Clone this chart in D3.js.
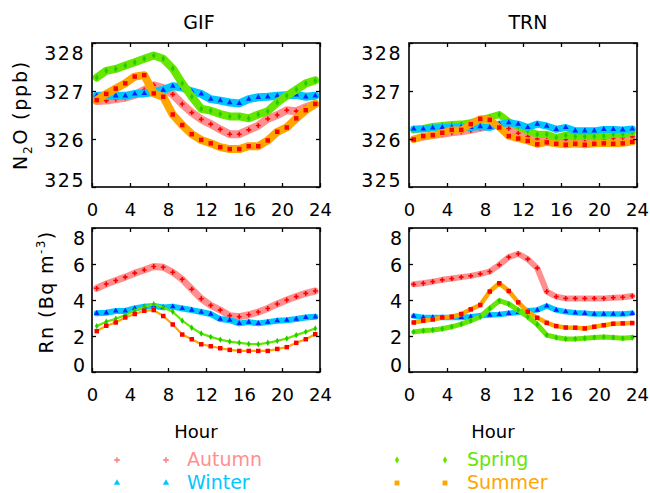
<!DOCTYPE html>
<html>
<head>
<meta charset="utf-8">
<script src="https://cdn.jsdelivr.net/npm/d3@7"></script>
<style>
  body { margin: 0; background: #fff; }
  svg { display: block; font-family: "DejaVu Sans", sans-serif; }
</style>
</head>
<body>
<svg id="chart" width="650" height="493"></svg>
<script>
// ---- data ----
const hours = [0.5,1.5,2.5,3.5,4.5,5.5,6.5,7.5,8.5,9.5,10.5,11.5,12.5,13.5,14.5,15.5,16.5,17.5,18.5,19.5,20.5,21.5,22.5,23.5];
const seasons = ["Autumn", "Winter", "Spring", "Summer"];
const xTicks = [0, 4, 8, 12, 16, 20, 24];
const n2oTicks = [325, 326, 327, 328];
const rnTicks = [0, 2, 4, 6, 8];

// GIF, N2O (ppb)
const gifN2O_autumn = [326.79,326.80,326.83,326.86,326.92,327.02,327.12,327.06,326.93,326.73,326.55,326.41,326.31,326.20,326.10,326.10,326.19,326.28,326.42,326.50,326.60,326.58,326.66,326.73];
const gifN2O_winter = [326.90,326.90,326.90,326.90,326.94,326.95,326.98,327.02,327.10,327.07,326.99,326.94,326.83,326.80,326.76,326.74,326.83,326.87,326.88,326.90,326.91,326.92,326.88,326.90];
const gifN2O_spring = [327.28,327.42,327.46,327.53,327.60,327.67,327.74,327.67,327.47,327.16,326.88,326.63,326.59,326.52,326.47,326.47,326.43,326.51,326.58,326.76,326.90,327.03,327.16,327.22];
const gifN2O_summer = [326.81,326.94,327.05,327.16,327.30,327.33,326.95,326.88,326.51,326.29,326.10,325.98,325.91,325.83,325.79,325.79,325.85,325.85,325.97,326.15,326.24,326.43,326.60,326.73];

// TRN, N2O (ppb)
const trnN2O_autumn = [326.00,326.04,326.07,326.10,326.13,326.15,326.18,326.22,326.26,326.30,326.22,326.12,326.05,326.00,325.98,325.98,325.99,325.99,325.99,326.00,326.00,326.02,326.03,326.05];
const trnN2O_winter = [326.21,326.21,326.23,326.24,326.25,326.25,326.24,326.26,326.24,326.31,326.34,326.31,326.24,326.31,326.27,326.20,326.24,326.17,326.17,326.17,326.20,326.20,326.19,326.21];
const trnN2O_spring = [326.19,326.22,326.26,326.28,326.30,326.31,326.34,326.40,326.45,326.51,326.36,326.26,326.17,326.10,326.10,326.03,326.08,326.05,326.05,326.05,326.06,326.10,326.10,326.14];
const trnN2O_summer = [325.99,326.06,326.08,326.13,326.19,326.19,326.31,326.42,326.40,326.24,326.06,326.01,325.96,325.89,325.93,325.90,325.88,325.90,325.88,325.90,325.91,325.90,325.91,325.94];

// GIF, Rn (Bq m-3)
const gifRn_autumn = [4.65,4.89,5.08,5.27,5.49,5.67,5.86,5.82,5.54,5.15,4.60,4.07,3.70,3.44,3.13,3.07,3.18,3.33,3.53,3.78,4.00,4.19,4.37,4.50];
const gifRn_winter = [3.26,3.29,3.39,3.39,3.53,3.63,3.67,3.59,3.63,3.53,3.44,3.33,3.22,2.94,2.88,2.70,2.77,2.70,2.77,2.85,2.88,2.94,3.03,3.07];
const gifRn_spring = [2.55,2.79,2.96,3.16,3.40,3.63,3.76,3.59,3.35,2.85,2.46,2.14,1.95,1.80,1.69,1.62,1.56,1.54,1.62,1.73,1.86,2.05,2.23,2.42];
const gifRn_summer = [2.27,2.57,2.75,3.03,3.22,3.40,3.44,3.11,2.64,2.08,1.82,1.54,1.43,1.32,1.23,1.17,1.17,1.17,1.17,1.28,1.38,1.62,1.82,2.10];

// TRN, Rn (Bq m-3)
const trnRn_autumn = [4.87,4.93,5.02,5.12,5.19,5.27,5.34,5.45,5.58,5.95,6.38,6.57,6.27,5.77,4.47,4.19,4.09,4.09,4.09,4.09,4.09,4.13,4.15,4.22];
const trnRn_winter = [3.11,3.03,3.03,3.03,3.03,3.03,3.07,3.13,3.16,3.20,3.26,3.31,3.40,3.44,3.67,3.44,3.35,3.29,3.26,3.22,3.22,3.22,3.22,3.26];
const trnRn_spring = [2.23,2.29,2.33,2.40,2.51,2.66,2.85,3.07,3.53,3.96,3.78,3.44,3.07,2.64,2.05,1.92,1.84,1.84,1.88,1.92,1.95,1.92,1.88,1.92];
const trnRn_summer = [2.75,2.85,2.92,3.03,3.07,3.22,3.48,3.72,4.47,4.93,4.50,3.87,3.35,3.01,2.73,2.55,2.47,2.46,2.42,2.51,2.60,2.68,2.70,2.72];

// ---- styles ----
const bandColor = { Autumn: "#ff8f8f", Winter: "#00c8ff", Spring: "#66e600", Summer: "#ffa500" };
const markColor = { Autumn: "#ff0000", Winter: "#0022ff", Spring: "#22cc00", Summer: "#ff0000" };
const markShape = { Autumn: d3.symbolCross, Winter: d3.symbolTriangle, Spring: d3.symbolDiamond, Summer: d3.symbolSquare };
const markSize  = { Autumn: 13, Winter: 14, Spring: 12, Summer: 20 };

const W = 228, H = 144;
// order: which season is drawn first (index into seasons)
const panels = [
  { title: "GIF", x: 92,  y: 43,  dom: [325, 328], ticks: n2oTicks, order: [0, 1, 2, 3],
    data: [gifN2O_autumn, gifN2O_winter, gifN2O_spring, gifN2O_summer], bw: [8, 8, 8, 8] },
  { title: "TRN", x: 409, y: 43,  dom: [325, 328], ticks: n2oTicks, order: [0, 2, 1, 3],
    data: [trnN2O_autumn, trnN2O_winter, trnN2O_spring, trnN2O_summer], bw: [7, 7, 7, 7] },
  { title: null,  x: 92,  y: 228, dom: [0, 8], ticks: rnTicks, order: [0, 1, 2, 3],
    data: [gifRn_autumn, gifRn_winter, gifRn_spring, gifRn_summer], bw: [7, 6, 2.2, 2.2] },
  { title: null,  x: 409, y: 228, dom: [0, 8], ticks: rnTicks, order: [0, 1, 2, 3],
    data: [trnRn_autumn, trnRn_winter, trnRn_spring, trnRn_summer], bw: [6, 5.5, 5, 4.5] }
];

const svg = d3.select("#chart");
const x = d3.scaleLinear().domain([0, 24]).range([0, W]);

panels.forEach((p, pi) => {
  const g = svg.append("g").attr("transform", `translate(${p.x},${p.y})`);
  const y = d3.scaleLinear().domain(p.dom).range([H, 0]);

  // series: band then markers
  p.order.forEach(si => {
    const s = seasons[si];
    const vals = p.data[si];
    const pts = hours.map((h, i) => [h, vals[i]]);
    g.append("path")
      .datum(pts)
      .attr("fill", "none")
      .attr("stroke", bandColor[s])
      .attr("stroke-width", p.bw[si])
      .attr("stroke-linejoin", "round")
      .attr("stroke-linecap", "round")
      .attr("d", d3.line().x(d => x(d[0])).y(d => y(d[1])));
    g.selectAll(null)
      .data(pts)
      .join("path")
      .attr("transform", d => `translate(${x(d[0])},${y(d[1])})`)
      .attr("d", d3.symbol(markShape[s], markSize[s]))
      .attr("fill", markColor[s]);
  });

  // inward ticks on all 4 sides
  const tk = 4;
  const addAx = (ax, tr) => {
    const a = g.append("g").attr("transform", tr).call(ax);
    a.select(".domain").remove();
    a.selectAll("text").remove();
    a.selectAll("line").attr("stroke", "#000").attr("stroke-width", 1.3);
  };
  addAx(d3.axisBottom(x).tickValues(xTicks).tickSize(-tk), `translate(0,${H})`);
  addAx(d3.axisTop(x).tickValues(xTicks).tickSize(-tk), "translate(0,0)");
  addAx(d3.axisLeft(y).tickValues(p.ticks).tickSize(-tk), "translate(0,0)");
  addAx(d3.axisRight(y).tickValues(p.ticks).tickSize(-tk), `translate(${W},0)`);

  g.append("rect")
    .attr("width", W).attr("height", H)
    .attr("fill", "none").attr("stroke", "#000").attr("stroke-width", 1.6);

  // tick labels
  const yl = g.append("g").call(
    d3.axisLeft(y).tickValues(p.ticks).tickFormat(d3.format("d")).tickSize(0).tickPadding(7));
  yl.select(".domain").remove();
  yl.selectAll("text")
    .attr("font-size", 19).attr("font-family", "DejaVu Sans, sans-serif")
    .attr("letter-spacing", p.dom[0] > 100 ? 1.5 : 0)
    .attr("fill", "#000")
    .attr("dy", (d, i, n) => i === 0 ? "-0.05em" : i === n.length - 1 ? "0.85em" : "0.42em");

  const xl = g.append("g").attr("transform", `translate(0,${H})`)
    .call(d3.axisBottom(x).tickValues(xTicks).tickFormat(d3.format("d")).tickSize(0).tickPadding(16));
  xl.select(".domain").remove();
  xl.selectAll("text")
    .attr("font-size", 18).attr("font-family", "DejaVu Sans, sans-serif").attr("fill", "#000");

  if (p.title) {
    svg.append("text")
      .attr("x", pi === 0 ? 199 : 528).attr("y", 29)
      .attr("text-anchor", "middle").attr("font-size", 19)
      .text(p.title);
  }
});

// y-axis titles
const n2oLab = svg.append("text")
  .attr("transform", "translate(27,115) rotate(-90)")
  .attr("text-anchor", "middle").attr("font-size", 19).attr("letter-spacing", 1.8);
n2oLab.append("tspan").text("N");
n2oLab.append("tspan").attr("font-size", 12).attr("dy", 5).text("2");
n2oLab.append("tspan").attr("dy", -5).text("O (ppb)");

const rnLab = svg.append("text")
  .attr("transform", "translate(53,292) rotate(-90)")
  .attr("text-anchor", "middle").attr("font-size", 19).attr("letter-spacing", 1.4);
rnLab.append("tspan").text("Rn (Bq m");
rnLab.append("tspan").attr("font-size", 12).attr("dy", -8).text("-3");
rnLab.append("tspan").attr("dy", 8).text(")");

// x-axis titles
[196, 493].forEach(cx => {
  svg.append("text").attr("x", cx).attr("y", 438)
    .attr("text-anchor", "middle").attr("font-size", 18).text("Hour");
});

// legend
const legendPos = { Autumn: [117, 166, 187, 460], Winter: [117, 166, 187, 483],
                    Spring: [397, 445, 467, 460], Summer: [397, 445, 467, 483] };
seasons.forEach(s => {
  const [m1, m2, tx, ty] = legendPos[s];
  [m1, m2].forEach(mx => {
    svg.append("path")
      .attr("transform", `translate(${mx},${ty})`)
      .attr("d", d3.symbol(markShape[s], markSize[s] + 4))
      .attr("fill", bandColor[s]);
  });
  svg.append("text").attr("x", tx).attr("y", ty + 6)
    .attr("font-size", 19).attr("fill", bandColor[s]).text(s);
});
</script>
</body>
</html>
